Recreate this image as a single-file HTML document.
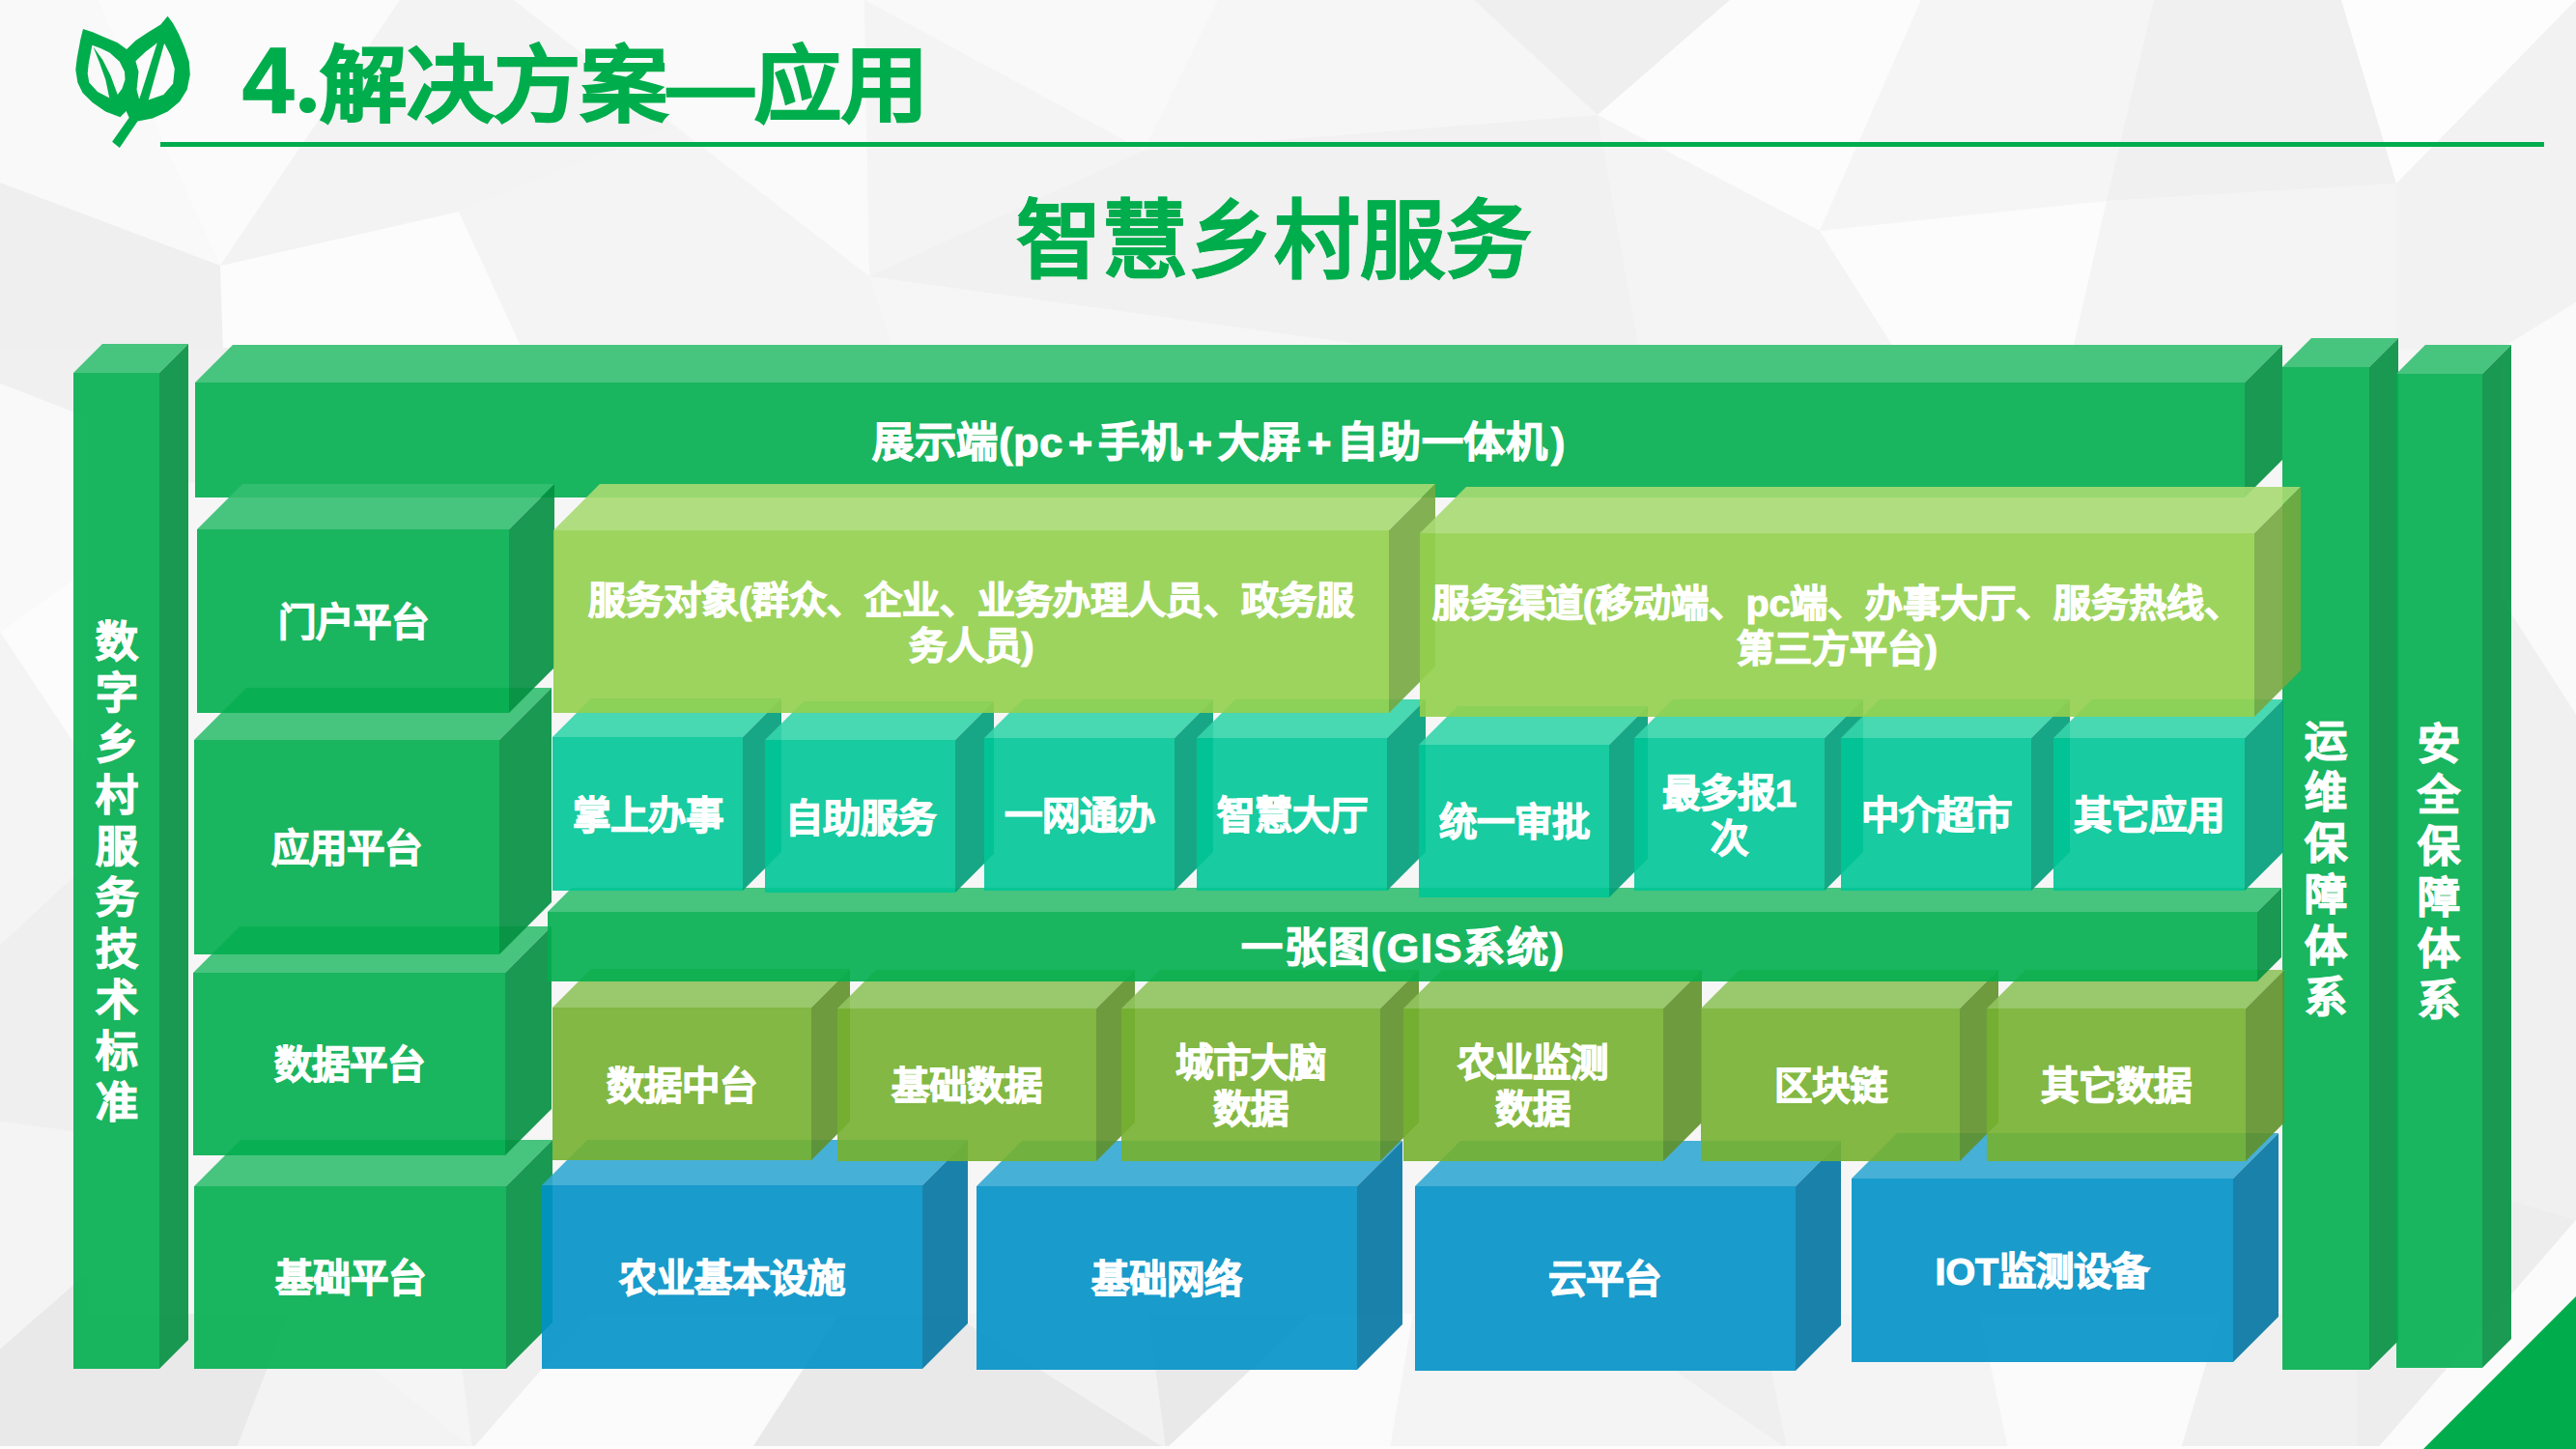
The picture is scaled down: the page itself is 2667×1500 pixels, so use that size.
<!DOCTYPE html>
<html lang="zh-CN"><head><meta charset="utf-8">
<style>
html,body{margin:0;padding:0;}
body{width:2667px;height:1500px;overflow:hidden;position:relative;background:#f6f6f6;font-family:"Liberation Sans",sans-serif;}
svg{position:absolute;left:0;top:0;}
.lb{position:absolute;display:flex;align-items:center;justify-content:center;text-align:center;color:#fff;font-weight:bold;white-space:nowrap;-webkit-text-stroke:1.2px #fff;}
.lb i{font-style:normal;margin:0 5px;}
.vl{position:absolute;text-align:center;color:#fff;font-weight:bold;-webkit-text-stroke:1.2px #fff;}
.ttl{position:absolute;color:#00ad4c;font-weight:bold;white-space:nowrap;-webkit-text-stroke:1.6px #00ad4c;}
</style></head><body>
<svg width="2667" height="1500" viewBox="0 0 2667 1500">
<polygon points="0,0 101,0 228,275 0,189" fill="#f9f9f9"/><polygon points="101,0 414,0 228,275" fill="#fbfbfb"/><polygon points="0,189 228,275 231,362 0,362" fill="#efefef"/><polygon points="228,275 475,219 541,362 231,362" fill="#fcfcfc"/><polygon points="414,0 532,0 697,130 475,219 228,275" fill="#f3f3f3"/><polygon points="475,219 697,130 900,286 924,362 541,362" fill="#f4f4f4"/><polygon points="532,0 895,0 900,286" fill="#fafafa"/><polygon points="895,0 1261,0 1184,156" fill="#f9f9f9"/><polygon points="895,0 1184,156 900,286" fill="#f4f4f4"/><polygon points="1261,0 1526,0 1654,119 1184,156" fill="#f6f6f6"/><polygon points="1526,0 1791,0 1654,119" fill="#efefef"/><polygon points="1791,0 1989,0 1884,239 1654,119" fill="#fcfcfc"/><polygon points="900,286 1184,156 1654,119 1697,362 924,362" fill="#f1f1f1"/><polygon points="900,286 924,362 1449,362" fill="#f6f6f6"/><polygon points="1654,119 1884,239 1962,362 1697,362" fill="#f4f4f4"/><polygon points="1989,0 2230,0 2181,208 1884,239" fill="#f5f5f5"/><polygon points="2230,0 2424,0 2481,190 2181,208" fill="#f0f0f0"/><polygon points="2424,0 2667,0 2481,190" fill="#fdfdfd"/><polygon points="1884,239 2181,208 2146,362 1962,362" fill="#fcfcfc"/><polygon points="2181,208 2481,190 2481,362 2146,362" fill="#f4f4f4"/><polygon points="2481,190 2667,0 2667,313 2600,362 2481,362" fill="#f2f2f2"/><polygon points="2667,313 2667,362 2600,362" fill="#fcfcfc"/><polygon points="80,360 240,360 240,500 80,500" fill="#f0f0f0"/><polygon points="0,1360 298.9,1360 244.5,1500 0,1500" fill="#e9e9e9"/><polygon points="298.9,1360 471,1360 489,1500 244.5,1500" fill="#f3f3f3"/><polygon points="316.4,1360 471,1360 489,1500" fill="#f5f5f5"/><polygon points="471,1360 611,1360 489,1500" fill="#efefef"/><polygon points="611,1360 868.7,1360 778,1500 489,1500" fill="#fbfbfb"/><polygon points="868.7,1360 1357,1360 1207,1500 778,1500" fill="#e9e9e9"/><polygon points="984.8,1360 1189,1360 1207,1500" fill="#f2f2f2"/><polygon points="1357,1360 1463,1360 1439,1500 1207,1500" fill="#fbfbfb"/><polygon points="1463,1360 1957.5,1360 1850,1500 1439,1500" fill="#f4f4f4"/><polygon points="1649.6,1360 1822.6,1360 1850,1500" fill="#efefef"/><polygon points="1957.5,1360 2049.7,1360 2079,1500 1850,1500" fill="#f4f4f4"/><polygon points="2049.7,1360 2299.4,1360 2258,1500 2079,1500" fill="#fbfbfb"/><polygon points="2299.4,1360 2577.5,1360 2461,1500 2258,1500" fill="#f0f0f0"/><polygon points="2577.5,1360 2667,1360 2667,1500 2461,1500" fill="#fafafa"/><polygon points="2590,360 2667,313 2667,740 2590,620" fill="#fafafa"/><polygon points="2590,620 2667,740 2667,1263 2590,1240" fill="#f0f0f0"/><polygon points="2590,1240 2667,1263 2461,1500 2440,1500 2440,1360 2590,1360" fill="#ededed"/><polygon points="2667,1263 2667,1342 2509,1500 2461,1500" fill="#fbfbfb"/><polygon points="0,360 90,360 90,432 0,397" fill="#f0f0f0"/><polygon points="0,397 90,432 90,590 0,654" fill="#f9f9f9"/><polygon points="0,654 90,590 90,790" fill="#fcfcfc"/><polygon points="0,654 90,790 90,895 0,978.6" fill="#f4f4f4"/><polygon points="0,978.6 90,895 90,1173 0,1161" fill="#efefef"/><polygon points="0,1161 90,1173 90,1318 0,1397" fill="#f4f4f4"/><polygon points="0,1397 90,1318 90,1420 0,1420" fill="#e9e9e9"/><polygon points="0,1497 2667,1497 2667,1500 0,1500" fill="#fdfdfd"/>
<path fill-rule="evenodd" fill="#00ad4c" d="M86,30 L95.9,33.3 L109.3,39 L121.8,44.2 L131.1,50.9 L140.4,42.1 L152.8,33.8 L166.3,25.5 L173.6,16.7 L179,24 L185,34.9 L191.2,49.3 L195.8,63.8 L196.8,77.3 L193.7,92.8 L186,105.3 L173.6,115.6 L158,122.4 L142.5,125.5 L123.8,152.9 L116.1,146.7 L133.7,121.8 L130.6,115.1 L124.4,121.3 L109.3,115.6 L95.9,106.3 L85.5,96 L80.4,85.6 L78.3,72.1 L79.8,59.7 L83.5,40Z M95.4,46.8 L104.2,49.9 L113.5,54.5 L123.8,63.8 L129,74.2 L129.5,82.5 L126.4,91.8 L121.8,98 L113.5,101.6 L101,94.9 L92.3,85.6 L90.7,76.3 L91.7,65.9Z M140.4,63.3 L150.8,53.5 L163.7,43.7 L170.4,45.2 L176.7,57.6 L180.8,71.1 L179.2,86.6 L169.4,98 L152.8,103.7 L144,102.2 L141.5,92.8 L143.5,74.2Z"/><polygon fill="#00ad4c" points="96.5,48.5 106.2,61.8 114.5,78.3 122.5,100 113.8,104 109.3,82.5 103.1,64.9"/><polygon fill="#00ad4c" points="163.5,42 170.5,43.5 153,106 143.5,105"/>
<rect x="166" y="147" width="2468" height="5" fill="#00ad4c"/>
<polygon points="2667,1342 2667,1500 2509,1500" fill="#00ac4b"/>
<polygon points="76,386 106,356 195,356 165,386" fill="rgba(52,191,113,0.9)"/><polygon points="165,386 195,356 195,1387 165,1417" fill="rgba(2,143,64,0.9)"/><rect x="76" y="386" width="89" height="1031" fill="rgba(2,174,79,0.9)"/><polygon points="2363,380 2393,350 2483,350 2453,380" fill="rgba(52,191,113,0.9)"/><polygon points="2453,380 2483,350 2483,1388 2453,1418" fill="rgba(2,143,64,0.9)"/><rect x="2363" y="380" width="90" height="1038" fill="rgba(2,174,79,0.9)"/><polygon points="2481,387 2511,357 2600,357 2570,387" fill="rgba(52,191,113,0.9)"/><polygon points="2570,387 2600,357 2600,1386 2570,1416" fill="rgba(2,143,64,0.9)"/><rect x="2481" y="387" width="89" height="1029" fill="rgba(2,174,79,0.9)"/><polygon points="202,396 241,357 2363,357 2324,396" fill="rgba(52,191,113,0.9)"/><polygon points="2324,396 2363,357 2363,476 2324,515" fill="rgba(2,143,64,0.9)"/><rect x="202" y="396" width="2122" height="119" fill="rgba(2,174,79,0.9)"/><polygon points="201,1228 249,1180 572,1180 524,1228" fill="rgba(52,191,113,0.9)"/><polygon points="524,1228 572,1180 572,1369 524,1417" fill="rgba(2,143,64,0.9)"/><rect x="201" y="1228" width="323" height="189" fill="rgba(2,174,79,0.9)"/><polygon points="200,1007 248,959 571,959 523,1007" fill="rgba(52,191,113,0.9)"/><polygon points="523,1007 571,959 571,1148 523,1196" fill="rgba(2,143,64,0.9)"/><rect x="200" y="1007" width="323" height="189" fill="rgba(2,174,79,0.9)"/><polygon points="201,766 255,712 571,712 517,766" fill="rgba(52,191,113,0.9)"/><polygon points="517,766 571,712 571,934 517,988" fill="rgba(2,143,64,0.9)"/><rect x="201" y="766" width="316" height="222" fill="rgba(2,174,79,0.9)"/><polygon points="204,548 251,501 574,501 527,548" fill="rgba(52,191,113,0.9)"/><polygon points="527,548 574,501 574,691 527,738" fill="rgba(2,143,64,0.9)"/><rect x="204" y="548" width="323" height="190" fill="rgba(2,174,79,0.9)"/><polygon points="561,1227 608,1180 1002,1180 955,1227" fill="rgba(51,168,211,0.9)"/><polygon points="955,1227 1002,1180 1002,1370 955,1417" fill="rgba(2,118,162,0.9)"/><rect x="561" y="1227" width="394" height="190" fill="rgba(1,145,198,0.9)"/><polygon points="1011,1228 1058,1181 1452,1181 1405,1228" fill="rgba(51,168,211,0.9)"/><polygon points="1405,1228 1452,1181 1452,1371 1405,1418" fill="rgba(2,118,162,0.9)"/><rect x="1011" y="1228" width="394" height="190" fill="rgba(1,145,198,0.9)"/><polygon points="1465,1228 1512,1181 1906,1181 1859,1228" fill="rgba(51,168,211,0.9)"/><polygon points="1859,1228 1906,1181 1906,1372 1859,1419" fill="rgba(2,118,162,0.9)"/><rect x="1465" y="1228" width="394" height="191" fill="rgba(1,145,198,0.9)"/><polygon points="1917,1220 1964,1173 2359,1173 2312,1220" fill="rgba(51,168,211,0.9)"/><polygon points="2312,1220 2359,1173 2359,1363 2312,1410" fill="rgba(2,118,162,0.9)"/><rect x="1917" y="1220" width="395" height="190" fill="rgba(1,145,198,0.9)"/><polygon points="572,1043 612,1003 880,1003 840,1043" fill="rgba(144,195,93,0.9)"/><polygon points="840,1043 880,1003 880,1161 840,1201" fill="rgba(95,145,42,0.9)"/><rect x="572" y="1043" width="268" height="158" fill="rgba(117,177,48,0.9)"/><polygon points="867,1044 907,1004 1175,1004 1135,1044" fill="rgba(144,195,93,0.9)"/><polygon points="1135,1044 1175,1004 1175,1162 1135,1202" fill="rgba(95,145,42,0.9)"/><rect x="867" y="1044" width="268" height="158" fill="rgba(117,177,48,0.9)"/><polygon points="1161,1044 1201,1004 1469,1004 1429,1044" fill="rgba(144,195,93,0.9)"/><polygon points="1429,1044 1469,1004 1469,1162 1429,1202" fill="rgba(95,145,42,0.9)"/><rect x="1161" y="1044" width="268" height="158" fill="rgba(117,177,48,0.9)"/><polygon points="1453,1044 1493,1004 1762,1004 1722,1044" fill="rgba(144,195,93,0.9)"/><polygon points="1722,1044 1762,1004 1762,1162 1722,1202" fill="rgba(95,145,42,0.9)"/><rect x="1453" y="1044" width="269" height="158" fill="rgba(117,177,48,0.9)"/><polygon points="1761,1044 1801,1004 2069,1004 2029,1044" fill="rgba(144,195,93,0.9)"/><polygon points="2029,1044 2069,1004 2069,1162 2029,1202" fill="rgba(95,145,42,0.9)"/><rect x="1761" y="1044" width="268" height="158" fill="rgba(117,177,48,0.9)"/><polygon points="2057,1044 2097,1004 2365,1004 2325,1044" fill="rgba(144,195,93,0.9)"/><polygon points="2325,1044 2365,1004 2365,1162 2325,1202" fill="rgba(95,145,42,0.9)"/><rect x="2057" y="1044" width="268" height="158" fill="rgba(117,177,48,0.9)"/><polygon points="567,944 592,919 2362,919 2337,944" fill="rgba(52,191,113,0.9)"/><polygon points="2337,944 2362,919 2362,991 2337,1016" fill="rgba(2,143,64,0.9)"/><rect x="567" y="944" width="1770" height="72" fill="rgba(2,174,79,0.9)"/><polygon points="572,763 612,723 809,723 769,763" fill="rgba(53,213,171,0.9)"/><polygon points="769,763 809,723 809,882 769,922" fill="rgba(0,159,122,0.9)"/><rect x="572" y="763" width="197" height="159" fill="rgba(0,199,151,0.9)"/><polygon points="792,766 832,726 1029,726 989,766" fill="rgba(53,213,171,0.9)"/><polygon points="989,766 1029,726 1029,884 989,924" fill="rgba(0,159,122,0.9)"/><rect x="792" y="766" width="197" height="158" fill="rgba(0,199,151,0.9)"/><polygon points="1019,764 1059,724 1256,724 1216,764" fill="rgba(53,213,171,0.9)"/><polygon points="1216,764 1256,724 1256,882 1216,922" fill="rgba(0,159,122,0.9)"/><rect x="1019" y="764" width="197" height="158" fill="rgba(0,199,151,0.9)"/><polygon points="1239,764 1279,724 1476,724 1436,764" fill="rgba(53,213,171,0.9)"/><polygon points="1436,764 1476,724 1476,882 1436,922" fill="rgba(0,159,122,0.9)"/><rect x="1239" y="764" width="197" height="158" fill="rgba(0,199,151,0.9)"/><polygon points="1469,771 1509,731 1706,731 1666,771" fill="rgba(53,213,171,0.9)"/><polygon points="1666,771 1706,731 1706,889 1666,929" fill="rgba(0,159,122,0.9)"/><rect x="1469" y="771" width="197" height="158" fill="rgba(0,199,151,0.9)"/><polygon points="1692,764 1732,724 1929,724 1889,764" fill="rgba(53,213,171,0.9)"/><polygon points="1889,764 1929,724 1929,882 1889,922" fill="rgba(0,159,122,0.9)"/><rect x="1692" y="764" width="197" height="158" fill="rgba(0,199,151,0.9)"/><polygon points="1906,764 1946,724 2143,724 2103,764" fill="rgba(53,213,171,0.9)"/><polygon points="2103,764 2143,724 2143,882 2103,922" fill="rgba(0,159,122,0.9)"/><rect x="1906" y="764" width="197" height="158" fill="rgba(0,199,151,0.9)"/><polygon points="2126,764 2166,724 2364,724 2324,764" fill="rgba(53,213,171,0.9)"/><polygon points="2324,764 2364,724 2364,882 2324,922" fill="rgba(0,159,122,0.9)"/><rect x="2126" y="764" width="198" height="158" fill="rgba(0,199,151,0.9)"/><polygon points="573,549 621,501 1486,501 1438,549" fill="rgba(168,218,115,0.9)"/><polygon points="1438,549 1486,501 1486,690 1438,738" fill="rgba(117,168,64,0.9)"/><rect x="573" y="549" width="865" height="189" fill="rgba(147,208,78,0.9)"/><polygon points="1470,552 1518,504 2382,504 2334,552" fill="rgba(168,218,115,0.9)"/><polygon points="2334,552 2382,504 2382,694 2334,742" fill="rgba(117,168,64,0.9)"/><rect x="1470" y="552" width="864" height="190" fill="rgba(147,208,78,0.9)"/>
</svg>
<div class="ttl" style="left:251px;top:28.5px;font-size:96px;line-height:110px">4</div>
<div style="position:absolute;left:310.4px;top:100.8px;width:16.5px;height:16.5px;border-radius:50%;background:#00ad4c"></div>
<div class="ttl" style="left:330.5px;top:33px;font-size:90.3px;line-height:110px;transform:scaleY(0.95);transform-origin:0 80px">解决方案—应用</div>
<div class="ttl" style="left:1052px;top:195px;font-size:88.5px;line-height:110px;-webkit-text-stroke:0.6px #00ad4c">智慧乡村服务</div>
<div class="lb" style="left:201px;top:399px;width:2122px;height:119px;font-size:43px;line-height:51.6px;letter-spacing:0.8px"><span>展示端(pc<i>+</i>手机<i>+</i>大屏<i>+</i>自助一体机<b style="margin-left:3px;font-weight:bold">)</b></span></div><div class="lb" style="left:204px;top:549.5px;width:323px;height:190px;font-size:39.4px;line-height:47.279999999999994px;"><span>门户平台</span></div><div class="lb" style="left:201px;top:767.5px;width:316px;height:222px;font-size:39.4px;line-height:47.279999999999994px;"><span>应用平台</span></div><div class="lb" style="left:200px;top:1008.5px;width:323px;height:188.5px;font-size:39.4px;line-height:47.279999999999994px;"><span>数据平台</span></div><div class="lb" style="left:201px;top:1229.5px;width:323px;height:189px;font-size:39.4px;line-height:47.279999999999994px;"><span>基础平台</span></div><div class="lb" style="left:573px;top:550px;width:865px;height:189.5px;font-size:39px;line-height:47px;"><span>服务对象(群众、企业、业务办理人员、政务服<br>务人员)</span></div><div class="lb" style="left:1470px;top:553.5px;width:864px;height:189.5px;font-size:39px;line-height:47px;"><span>服务渠道(移动端、pc端、办事大厅、服务热线、<br>第三方平台)</span></div><div class="lb" style="left:572px;top:765px;width:197px;height:158.5px;font-size:39.4px;line-height:47px;"><span>掌上办事</span></div><div class="lb" style="left:792px;top:768px;width:197px;height:158.39999999999998px;font-size:39.4px;line-height:47px;"><span>自助服务</span></div><div class="lb" style="left:1019px;top:766.3px;width:197.4000000000001px;height:157.20000000000005px;font-size:39.4px;line-height:47px;"><span>一网通办</span></div><div class="lb" style="left:1239px;top:766.3px;width:197px;height:157.20000000000005px;font-size:39.4px;line-height:47px;"><span>智慧大厅</span></div><div class="lb" style="left:1469px;top:773px;width:197.4000000000001px;height:157.70000000000005px;font-size:39.4px;line-height:47px;"><span>统一审批</span></div><div class="lb" style="left:1692px;top:766.3px;width:197px;height:157.70000000000005px;font-size:39.4px;line-height:47px;"><span>最多报1<br>次</span></div><div class="lb" style="left:1906px;top:766.3px;width:197px;height:157.20000000000005px;font-size:39.4px;line-height:47px;"><span>中介超市</span></div><div class="lb" style="left:2126px;top:766.3px;width:197.5px;height:157.20000000000005px;font-size:39.4px;line-height:47px;"><span>其它应用</span></div><div class="lb" style="left:567px;top:945.9px;width:1770.4px;height:71.30000000000007px;font-size:43px;line-height:51.6px;letter-spacing:1.8px;text-indent:1.8px"><span>一张图(GIS系统)</span></div><div class="lb" style="left:572px;top:1044.5px;width:268.4px;height:158.29999999999995px;font-size:39.4px;line-height:48px;"><span>数据中台</span></div><div class="lb" style="left:867px;top:1045.1px;width:268.29999999999995px;height:157.9000000000001px;font-size:39.4px;line-height:48px;"><span>基础数据</span></div><div class="lb" style="left:1161px;top:1045.1px;width:268.29999999999995px;height:157.9000000000001px;font-size:39.4px;line-height:48px;"><span>城市大脑<br>数据</span></div><div class="lb" style="left:1453px;top:1045.1px;width:268.5px;height:157.9000000000001px;font-size:39.4px;line-height:48px;"><span>农业监测<br>数据</span></div><div class="lb" style="left:1761px;top:1045.1px;width:268.4000000000001px;height:158.10000000000014px;font-size:39.4px;line-height:48px;"><span>区块链</span></div><div class="lb" style="left:2057px;top:1045.0px;width:268.1999999999998px;height:158.0999999999999px;font-size:39.4px;line-height:48px;"><span>其它数据</span></div><div class="lb" style="left:561px;top:1228.5px;width:394.29999999999995px;height:190px;font-size:39.4px;line-height:47.279999999999994px;"><span>农业基本设施</span></div><div class="lb" style="left:1011px;top:1229.5px;width:394.29999999999995px;height:190px;font-size:39.4px;line-height:47.279999999999994px;"><span>基础网络</span></div><div class="lb" style="left:1465px;top:1229.5px;width:393.5999999999999px;height:190.70000000000005px;font-size:39.4px;line-height:47.279999999999994px;"><span>云平台</span></div><div class="lb" style="left:1917px;top:1221.8px;width:394.5999999999999px;height:189.5px;font-size:39.4px;line-height:47.279999999999994px;"><span>IOT监测设备</span></div><div class="vl" style="left:76px;top:637.5px;width:89px;font-size:44px;line-height:53px">数<br>字<br>乡<br>村<br>服<br>务<br>技<br>术<br>标<br>准</div><div class="vl" style="left:2363px;top:741px;width:90px;font-size:44px;line-height:53px">运<br>维<br>保<br>障<br>体<br>系</div><div class="vl" style="left:2481px;top:744px;width:88.5px;font-size:44px;line-height:53px">安<br>全<br>保<br>障<br>体<br>系</div>
</body></html>
